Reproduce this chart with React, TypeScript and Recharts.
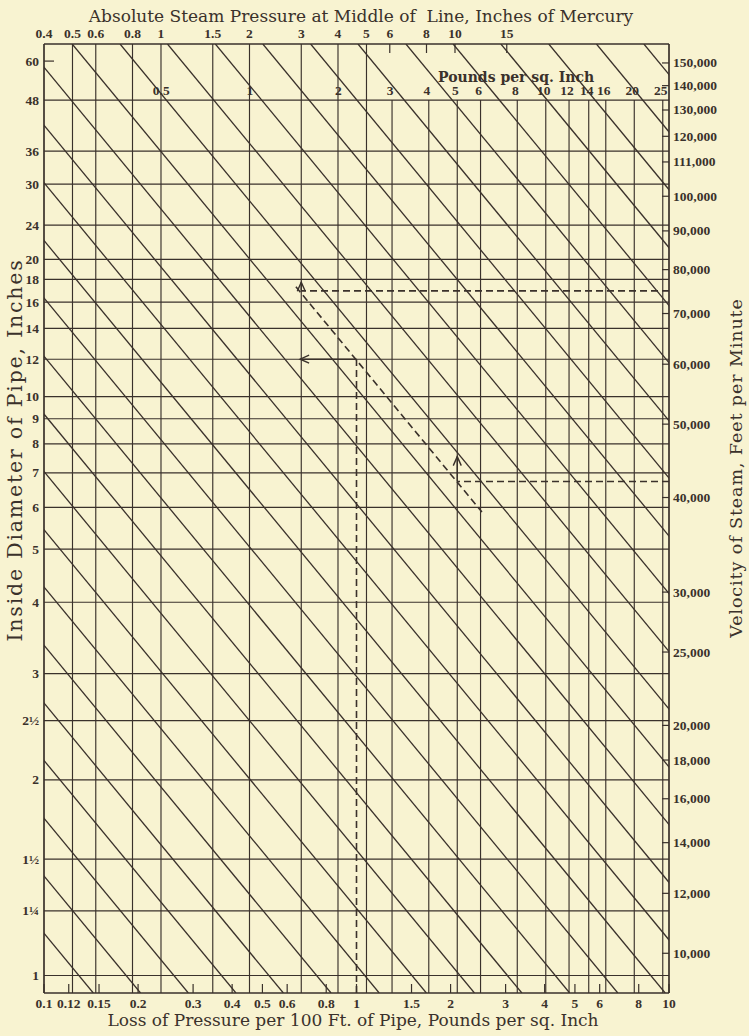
import React from "react";
import { ComposedChart, XAxis, YAxis, Line } from "recharts";

// Steam flow chart (Babcock): loss of pressure vs. pipe diameter, steam pressure and velocity.
// Horizontal scales are logarithmic, values go on the axes as log10(value).
// The diameter scale is the Babcock factor log10(d² / (d + 3.6)); velocity is log10(V).

const INK = "#3a312b";
const PAPER = "#f8f3d1";
const NUM_FONT = "'Liberation Serif', 'DejaVu Serif', serif";
const TITLE_FONT = "'DejaVu Serif', 'Liberation Serif', serif";

// bottom scale: loss of pressure per 100 ft of pipe (psi)
const LOSS_TICKS = [0.1, 0.12, 0.15, 0.2, 0.3, 0.4, 0.5, 0.6, 0.8, 1, 1.5, 2, 3, 4, 5, 6, 8, 10];
const LOSS_RANGE = [0.1, 10];

// top scale: absolute steam pressure (in. of mercury)
const HG_TICKS = [0.4, 0.5, 0.6, 0.8, 1, 1.5, 2, 3, 4, 5, 6, 8, 10, 15];
const HG_FULL_LINES = [0.5, 0.6, 0.8, 1, 1.5, 2, 3, 4, 5];
const HG_SHORT_TICKS = [6, 8, 10, 15];
const HG_RANGE = [0.4, 53.45];
const HG_PER_PSI = 2.036;

// the same pressure scale in pounds per sq. inch (labels on the 48 in. row)
const PSI_LABELS = [0.5, 1, 2, 3, 4, 5, 6, 8, 10, 12, 14, 16, 20, 25];
const PSI_LINES = [3, 4, 5, 6, 8, 10, 12, 14, 16, 20, 25];

// left scale: inside diameter of pipe (in.)
const DIAMETERS = [60, 48, 36, 30, 24, 20, 18, 16, 14, 12, 10, 9, 8, 7, 6, 5, 4, 3, 2.5, 2, 1.5, 1.25, 1];
const DIAMETER_LABELS = ["60", "48", "36", "30", "24", "20", "18", "16", "14", "12", "10", "9", "8", "7", "6", "5", "4", "3", "2½", "2", "1½", "1¼", "1"];
const FACTOR_RANGE = [-0.709, 1.798];

// right scale: velocity of steam (ft per minute)
const VELOCITIES = [150000, 140000, 130000, 120000, 111000, 100000, 90000, 80000, 70000, 60000, 50000, 40000, 30000, 25000, 20000, 18000, 16000, 14000, 12000, 10000];
const VELOCITY_RANGE = [8862, 158900];

// diagonal lines: loss per 100 ft at unit diameter factor (one value per line)
const DIAGONAL_K = [
  0.0281, 0.0398, 0.0566, 0.0804, 0.114, 0.162, 0.231, 0.327, 0.466, 0.661, 0.94, 1.34, 1.9, 2.7, 3.83,
  5.45, 7.73, 11.0, 15.6, 22.2, 31.5, 44.8, 63.5, 90.4, 128, 182, 259, 368, 522,
];

// worked example: 75,000 ft/min at 3 in. Hg, 12 in. pipe -> 1 lb loss; 42,000 ft/min at 5 lb
const EXAMPLE_K = 9.18;
const EXAMPLE_DIAG_LOSS = [0.64, 2.52];
const EXAMPLE_LOSS = 1;
const EXAMPLE_DIAMETER = 12;
const EXAMPLE_ARROW_LOSS = 0.66;
const EXAMPLE_RUNS = [
  { hg: 3, v: 75000, arrowTo: 77000 },
  { hg: 5 * HG_PER_PSI, v: 42000, arrowTo: 45300 },
];

const lg = Math.log10;
const factor = (d: number) => lg((d * d) / (d + 3.6));
const hBottom = FACTOR_RANGE[0];
const hTop = FACTOR_RANGE[1];
const seg = (x1: number, y1: number, x2: number, y2: number) => [
  { x: x1, y: y1 },
  { x: x2, y: y2 },
];
const fmt = (v: number) => String(Number(Math.pow(10, v).toPrecision(3)));

const numText = { fontFamily: NUM_FONT, fontWeight: "bold" as const, fontSize: 13.5, fill: INK };

function LossTick(props: any) {
  const { x, y, payload } = props;
  return (
    <g>
      <line x1={x} x2={x} y1={y} y2={y - 9} stroke={INK} strokeWidth={1.2} />
      <text x={x} y={y + 15} textAnchor="middle" {...numText}>
        {fmt(payload.value)}
      </text>
    </g>
  );
}

function HgTick(props: any) {
  const { x, y, payload } = props;
  const v = Number(fmt(payload.value));
  return (
    <g>
      {HG_SHORT_TICKS.includes(v) ? <line x1={x} x2={x} y1={y} y2={y + 9} stroke={INK} strokeWidth={1.2} /> : null}
      <text x={x} y={y - 6} textAnchor="middle" {...numText}>
        {v}
      </text>
    </g>
  );
}

function DiameterTick(props: any) {
  const { x, y, index } = props;
  const label = DIAMETER_LABELS[index];
  return (
    <g>
      {label === "60" ? <line x1={x} x2={x + 10} y1={y} y2={y} stroke={INK} strokeWidth={1.2} /> : null}
      <text x={x - 5} y={y + 4.5} textAnchor="end" {...numText}>
        {label}
      </text>
    </g>
  );
}

function VelocityTick(props: any) {
  const { x, y, index } = props;
  return (
    <g>
      <line x1={x - 7} x2={x} y1={y} y2={y} stroke={INK} strokeWidth={1.2} />
      <text x={x + 4} y={y + 4.5} textAnchor="start" {...numText}>
        {VELOCITIES[index].toLocaleString("en-US")}
      </text>
    </g>
  );
}

const arrowHead = (dir: "left" | "up") => (d: any) => {
  if (d.index !== 1) return <g key={d.key} />;
  const path =
    dir === "left"
      ? `M${d.cx + 9},${d.cy - 4} L${d.cx},${d.cy} L${d.cx + 9},${d.cy + 4}`
      : `M${d.cx - 4},${d.cy + 9} L${d.cx},${d.cy} L${d.cx + 4},${d.cy + 9}`;
  return <path key={d.key} d={path} stroke={INK} strokeWidth={1.4} fill="none" />;
};

export default function App() {
  const line = (key: string, xAxisId: string, yAxisId: string, data: any[], extra: any = {}) => (
    <Line
      key={key}
      xAxisId={xAxisId}
      yAxisId={yAxisId}
      data={data}
      dataKey="y"
      type="linear"
      stroke={INK}
      strokeWidth={1.15}
      dot={false}
      activeDot={false}
      legendType="none"
      isAnimationActive={false}
      {...extra}
    />
  );
  const h48 = factor(48);
  const lossL = lg(LOSS_RANGE[0]);
  const lossR = lg(LOSS_RANGE[1]);

  return (
    <div style={{ position: "absolute", left: 0, top: 0, width: 749, height: 1036, background: PAPER, color: INK }}>
      <ComposedChart width={749} height={1036} margin={{ top: 0, right: 0, bottom: 0, left: 0 }}>
        <XAxis
          xAxisId="loss"
          dataKey="x"
          type="number"
          domain={[lossL, lossR]}
          allowDataOverflow
          ticks={LOSS_TICKS.map(lg)}
          interval={0}
          height={43}
          tickSize={0}
          tickMargin={0}
          tickLine={false}
          axisLine={{ stroke: INK, strokeWidth: 1.7 }}
          tick={<LossTick />}
        />
        <XAxis
          xAxisId="hg"
          dataKey="x"
          orientation="top"
          type="number"
          domain={[lg(HG_RANGE[0]), lg(HG_RANGE[1])]}
          allowDataOverflow
          ticks={HG_TICKS.map(lg)}
          interval={0}
          height={44}
          tickSize={0}
          tickMargin={0}
          tickLine={false}
          axisLine={{ stroke: INK, strokeWidth: 1.7 }}
          tick={<HgTick />}
        />
        <YAxis
          yAxisId="d"
          type="number"
          domain={FACTOR_RANGE}
          allowDataOverflow
          ticks={DIAMETERS.map(factor)}
          interval={0}
          width={44}
          tickSize={0}
          tickMargin={0}
          tickLine={false}
          axisLine={{ stroke: INK, strokeWidth: 1.7 }}
          tick={<DiameterTick />}
        />
        <YAxis
          yAxisId="v"
          orientation="right"
          type="number"
          domain={VELOCITY_RANGE.map(lg)}
          allowDataOverflow
          ticks={VELOCITIES.map(lg)}
          interval={0}
          width={80}
          tickSize={0}
          tickMargin={0}
          tickLine={false}
          axisLine={{ stroke: INK, strokeWidth: 1.7 }}
          tick={<VelocityTick />}
        />

        {/* diameter rules */}
        {DIAMETERS.filter((d) => d !== 60).map((d) =>
          line("d" + d, "loss", "d", seg(lossL, factor(d), lossR, factor(d))),
        )}

        {/* pressure rules, in. Hg, full height */}
        {HG_FULL_LINES.map((v) => line("hg" + v, "hg", "d", seg(lg(v), hBottom, lg(v), hTop)))}

        {/* pressure rules, psi, from the 48 in. row down */}
        {PSI_LINES.map((p) =>
          line("psi" + p, "hg", "d", seg(lg(p * HG_PER_PSI), h48, lg(p * HG_PER_PSI), hBottom)),
        )}
        {PSI_LABELS.map((p) =>
          line("psil" + p, "hg", "d", seg(lg(p * HG_PER_PSI), h48, lg(p * HG_PER_PSI), h48), {
            stroke: "none",
            dot: (d: any) =>
              d.index === 0 ? (
                <text key={d.key} x={d.cx - 2} y={d.cy - 5} textAnchor="middle" {...numText}>
                  {p}
                </text>
              ) : (
                <g key={d.key} />
              ),
          }),
        )}

        {/* diagonal lines: log(loss) = log(K) - diameter factor */}
        {DIAGONAL_K.map((k) =>
          line("k" + k, "loss", "d", seg(lg(k) - hBottom, hBottom, lg(k) - hTop, hTop), { strokeWidth: 1.3 }),
        )}

        {/* worked example */}
        {line(
          "exdiag",
          "loss",
          "d",
          seg(lg(EXAMPLE_DIAG_LOSS[0]), lg(EXAMPLE_K) - lg(EXAMPLE_DIAG_LOSS[0]), lg(EXAMPLE_DIAG_LOSS[1]), lg(EXAMPLE_K) - lg(EXAMPLE_DIAG_LOSS[1])),
          { strokeWidth: 1.6, strokeDasharray: "7 4" },
        )}
        {line("exvert", "loss", "d", seg(lg(EXAMPLE_LOSS), hBottom, lg(EXAMPLE_LOSS), factor(EXAMPLE_DIAMETER)), {
          strokeWidth: 1.6,
          strokeDasharray: "7 4",
        })}
        {line(
          "exarrow",
          "loss",
          "d",
          seg(lg(EXAMPLE_LOSS), factor(EXAMPLE_DIAMETER), lg(EXAMPLE_ARROW_LOSS), factor(EXAMPLE_DIAMETER)),
          { strokeWidth: 1.4, dot: arrowHead("left") },
        )}
        {EXAMPLE_RUNS.map((r, i) =>
          line("exrun" + i, "hg", "v", seg(lg(HG_RANGE[1]), lg(r.v), lg(r.hg), lg(r.v)), {
            strokeWidth: 1.6,
            strokeDasharray: "7 4",
          }),
        )}
        {EXAMPLE_RUNS.map((r, i) =>
          line("exup" + i, "hg", "v", seg(lg(r.hg), lg(r.v), lg(r.hg), lg(r.arrowTo)), {
            strokeWidth: 1.4,
            dot: arrowHead("up"),
          }),
        )}
      </ComposedChart>

      <div style={{ position: "absolute", left: 0, width: 722, top: 6, textAlign: "center", fontFamily: TITLE_FONT, fontSize: 17, whiteSpace: "nowrap" }}>
        Absolute Steam Pressure at Middle of&nbsp; Line, Inches of Mercury
      </div>
      <div style={{ position: "absolute", left: 438, top: 69, fontFamily: TITLE_FONT, fontSize: 14, fontWeight: "bold", whiteSpace: "nowrap" }}>
        Pounds per sq. Inch
      </div>
      <div style={{ position: "absolute", left: 0, width: 706, top: 1010, textAlign: "center", fontFamily: TITLE_FONT, fontSize: 17, whiteSpace: "nowrap" }}>
        Loss of Pressure per 100 Ft. of Pipe, Pounds per sq. Inch
      </div>
      <div
        style={{
          position: "absolute",
          left: 15,
          top: 450,
          fontFamily: TITLE_FONT,
          fontSize: 20.5,
          letterSpacing: 1.8,
          whiteSpace: "nowrap",
          transform: "translate(-50%, -50%) rotate(-90deg)",
        }}
      >
        Inside Diameter of Pipe, Inches
      </div>
      <div
        style={{
          position: "absolute",
          left: 736,
          top: 468,
          fontFamily: TITLE_FONT,
          fontSize: 17.5,
          letterSpacing: 0.9,
          whiteSpace: "nowrap",
          transform: "translate(-50%, -50%) rotate(-90deg)",
        }}
      >
        Velocity of Steam, Feet per Minute
      </div>
    </div>
  );
}
